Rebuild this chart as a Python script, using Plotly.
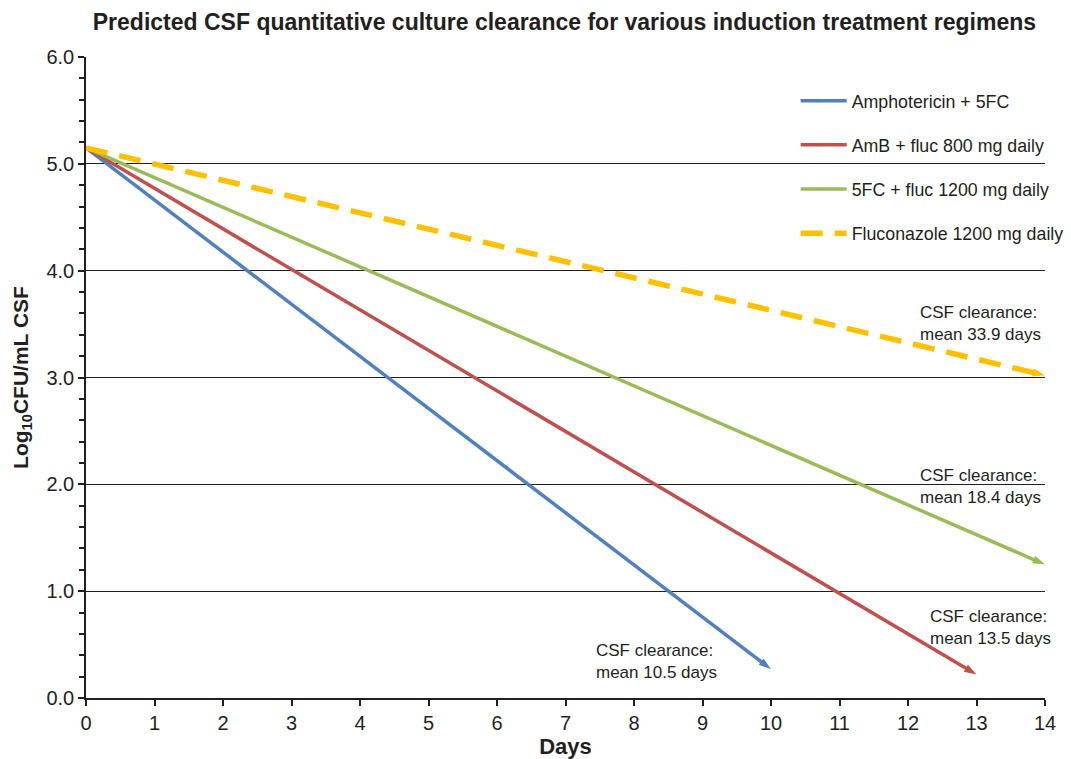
import plotly.graph_objects as go

# Data
regimens = ["Amphotericin + 5FC", "AmB + fluc 800 mg daily",
            "5FC + fluc 1200 mg daily", "Fluconazole 1200 mg daily"]
start_day = [0, 0, 0, 0]
start_log = [5.15, 5.15, 5.15, 5.15]
end_day = [10, 13, 14, 14]
end_log = [0.27, 0.22, 1.25, 3.02]
colors = ["#4F81BD", "#C0504D", "#9BBB59", "#FFC000"]
dashes = ["solid", "solid", "solid", "22px,12px"]
widths = [3.5, 3.5, 3.5, 5.5]

clear_text = ["CSF clearance:<br>mean 10.5 days", "CSF clearance:<br>mean 13.5 days",
              "CSF clearance:<br>mean 18.4 days", "CSF clearance:<br>mean 33.9 days"]
text_x = [7.42, 12.29, 12.15, 12.15]
text_y = [0.34, 0.66, 1.98, 3.51]

x_ticks = list(range(0, 15))
y_ticks = [0, 1, 2, 3, 4, 5, 6]

FONT = "Liberation Sans, Arial, sans-serif"
fig = go.Figure()

for i, name in enumerate(regimens):
    fig.add_trace(go.Scatter(
        x=[start_day[i], end_day[i]], y=[start_log[i], end_log[i]],
        mode="lines+markers", name=name, legendgroup=name,
        line=dict(color=colors[i], width=widths[i], dash=dashes[i]),
        marker=dict(symbol="arrow", angleref="previous",
                    size=[0, 13], color=colors[i], opacity=[0, 1],
                    line=dict(width=0)),
    ))

for i in range(len(clear_text)):
    fig.add_annotation(x=text_x[i], y=text_y[i], text=clear_text[i],
                       showarrow=False, xanchor="left", yanchor="middle",
                       align="left", font=dict(size=17, color="#231F20", family=FONT))

fig.update_layout(
    width=1071, height=759,
    margin=dict(l=86, r=26, t=57, b=61, autoexpand=False),
    paper_bgcolor="white", plot_bgcolor="white",
    font=dict(family=FONT, color="#231F20"),
    title=dict(text="<b>Predicted CSF quantitative culture clearance for various induction treatment regimens</b>",
               x=0.527, xanchor="center", y=0.971, yanchor="middle",
               font=dict(size=23, family=FONT, color="#231F20")),
    legend=dict(x=0.74, xanchor="left", y=0.96, yanchor="top",
                font=dict(size=17.8, family=FONT), tracegroupgap=18,
                bgcolor="rgba(255,255,255,0)", itemwidth=46),
    showlegend=True,
)

fig.update_xaxes(range=[0, 14], tickvals=x_ticks, ticks="outside", ticklen=6,
                 tickwidth=1.5, tickcolor="#231F20", automargin=False,
                 showline=True, linecolor="#231F20", linewidth=1.5,
                 showgrid=False, zeroline=False,
                 tickfont=dict(size=20, family=FONT),
                 title=dict(text="<b>Days</b>", font=dict(size=22, family=FONT), standoff=6))
fig.update_yaxes(range=[0, 6], tickvals=y_ticks, tickformat=".1f", ticks="outside",
                 ticklen=6, tickwidth=1.5, tickcolor="#231F20", automargin=False,
                 minor=dict(dtick=0.2, ticks="outside", ticklen=5, tickwidth=1.5,
                            tickcolor="#231F20", showgrid=False),
                 showline=True, linecolor="#231F20", linewidth=1.5,
                 showgrid=True, gridcolor="#231F20", gridwidth=1.4, zeroline=False,
                 tickfont=dict(size=20, family=FONT),
                 title=dict(text="<b>Log<sub>10</sub>CFU/mL CSF</b>",
                            font=dict(size=21, family=FONT), standoff=12))

fig.write_html("out.html", config={"displayModeBar": False},
               post_script="document.body.style.margin='0px';document.body.style.overflow='hidden';")
